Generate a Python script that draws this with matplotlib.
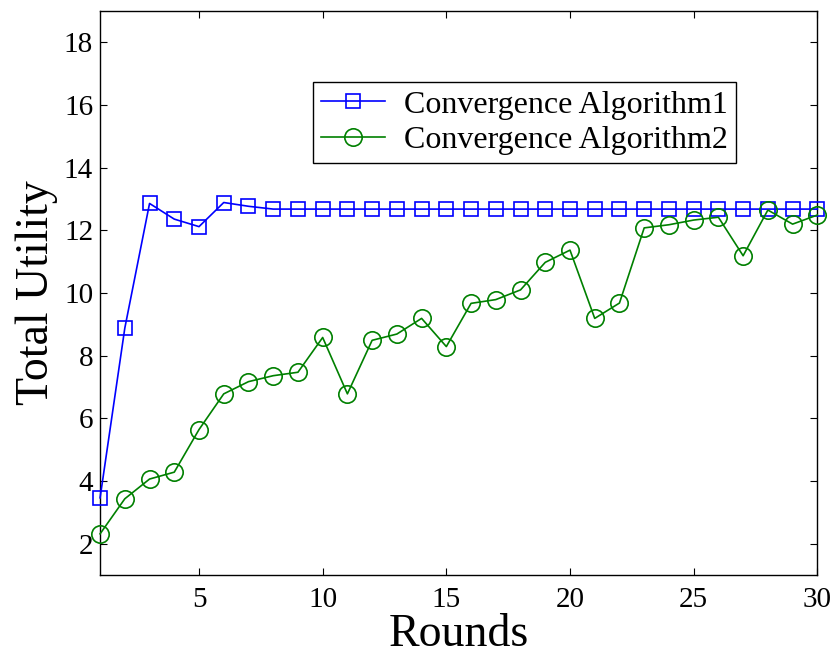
import matplotlib
matplotlib.use("Agg")
import matplotlib.pyplot as plt

plt.rcParams['font.family'] = ['Liberation Serif', 'DejaVu Serif']

rounds = list(range(1, 31))
algorithm1 = [3.46, 8.88, 12.86, 12.36, 12.12, 12.89, 12.77, 12.68, 12.68, 12.68,
              12.68, 12.68, 12.68, 12.68, 12.68, 12.68, 12.68, 12.68, 12.68, 12.68,
              12.68, 12.68, 12.68, 12.68, 12.68, 12.68, 12.68, 12.68, 12.68, 12.68]
algorithm2 = [2.31, 3.43, 4.06, 4.28, 5.64, 6.78, 7.17, 7.36, 7.47, 8.58,
              6.78, 8.49, 8.69, 9.19, 8.29, 9.67, 9.79, 10.10, 10.98, 11.37,
              9.19, 9.68, 12.08, 12.18, 12.33, 12.42, 11.19, 12.65, 12.20, 12.49]
series_labels = ['Convergence Algorithm1', 'Convergence Algorithm2']
x_ticks = [5, 10, 15, 20, 25, 30]
y_ticks = [2, 4, 6, 8, 10, 12, 14, 16, 18]

fig = plt.figure(figsize=(8.34, 6.57), dpi=100)
ax = fig.add_axes([0.120, 0.125, 0.860, 0.858])

ax.plot(rounds, algorithm1, color='#0000ff', lw=1.2, marker='s', ms=9.5,
        mfc='none', mec='#0000ff', mew=1.2, label=series_labels[0],
        clip_on=False, zorder=3)
ax.plot(rounds, algorithm2, color='#008000', lw=1.2, marker='o', ms=12.5,
        mfc='none', mec='#008000', mew=1.2, label=series_labels[1],
        clip_on=False, zorder=3)

ax.set_xlim(1, 30)
ax.set_ylim(1, 19)
ax.set_xticks(x_ticks)
ax.set_yticks(y_ticks)
ax.tick_params(direction='in', length=5, width=0.8, top=True, right=True,
               labelsize=21)
ax.tick_params(axis='x', pad=9)
ax.tick_params(axis='y', pad=5)
for s in ax.spines.values():
    s.set_linewidth(1.0)

ax.set_xlabel('Rounds', fontsize=33, labelpad=0)
ax.set_ylabel('Total Utility', fontsize=33, labelpad=4)

leg = ax.legend(loc='upper right', bbox_to_anchor=(0.887, 0.874),
                borderaxespad=0, fontsize=23, fancybox=False, framealpha=1,
                edgecolor='black', handlelength=2.0, handletextpad=0.6,
                borderpad=0.25, labelspacing=0.2)
leg.get_frame().set_linewidth(1.0)

fig.savefig('out.png', dpi=100)
